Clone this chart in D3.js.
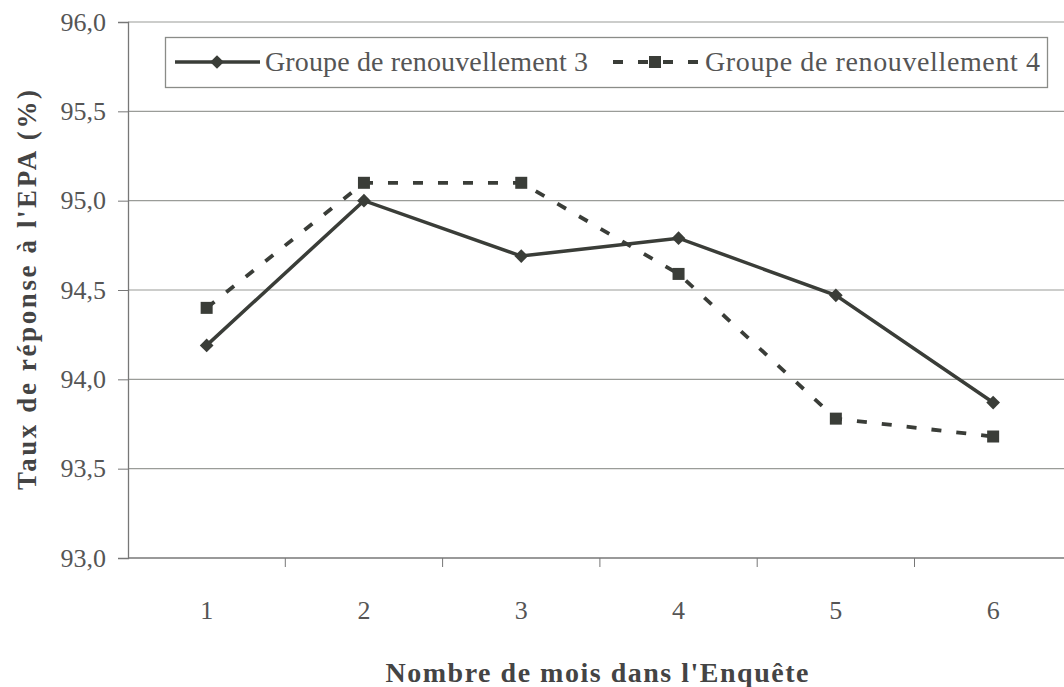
<!DOCTYPE html>
<html>
<head>
<meta charset="utf-8">
<script src="https://cdn.jsdelivr.net/npm/d3@7"></script>
<style>
  body { margin: 0; background: #fff; }
  text { font-family: "Liberation Serif", "Times New Roman", serif; }
</style>
</head>
<body>
<svg id="chart" width="1064" height="687"></svg>
<script>
// data
var months = ['1', '2', '3', '4', '5', '6'];
var groupe3 = [94.19, 95.0, 94.69, 94.79, 94.47, 93.87];
var groupe4 = [94.4, 95.1, 95.1, 94.59, 93.78, 93.68];
var yTicks = [93.0, 93.5, 94.0, 94.5, 95.0, 95.5, 96.0];
var seriesNames = ['Groupe de renouvellement 3', 'Groupe de renouvellement 4'];

var svg = d3.select('#chart');

var plotLeft = 128, plotTop = 22, plotBottom = 558;
var band = 157.3;
var ink = '#3a3d38';

var xScale = d3.scaleBand()
  .domain(months)
  .range([plotLeft, plotLeft + band * months.length])
  .padding(0);

var yScale = d3.scaleLinear()
  .domain([93, 96])
  .range([plotBottom, plotTop]);

var fmt = function(d) { return d3.format('.1f')(d).replace('.', ','); };

// gridlines
svg.append('g')
  .selectAll('line')
  .data(yTicks.slice(1))
  .enter()
  .append('line')
  .attr('x1', plotLeft)
  .attr('x2', 1064)
  .attr('y1', function(d) { return yScale(d); })
  .attr('y2', function(d) { return yScale(d); })
  .attr('stroke', '#9a9c98')
  .attr('stroke-width', 1.2);

// y axis
var yAxis = svg.append('g')
  .attr('transform', 'translate(' + plotLeft + ',0)')
  .call(d3.axisLeft(yScale).tickValues(yTicks).tickFormat(fmt).tickSize(10).tickPadding(12));

// x axis, ticks on the band edges
var xAxis = svg.append('g')
  .attr('transform', 'translate(0,' + plotBottom + ')')
  .call(d3.axisBottom(xScale).tickSize(0).tickPadding(43));

xAxis.selectAll('.edge')
  .data(months.slice(1))
  .enter()
  .append('line')
  .attr('class', 'edge')
  .attr('x1', function(d) { return xScale(d); })
  .attr('x2', function(d) { return xScale(d); })
  .attr('y1', 0)
  .attr('y2', 9)
  .attr('stroke', '#777');

[yAxis, xAxis].forEach(function(ax) {
  ax.select('.domain').attr('stroke', '#777').attr('stroke-width', 1.3);
  ax.selectAll('.tick line').attr('stroke', '#777');
  ax.selectAll('text')
    .attr('font-family', 'Liberation Serif')
    .style('font-family', '"Liberation Serif", serif')
    .style('font-size', '26px')
    .attr('fill', '#555');
});
xAxis.select('.domain').attr('d', 'M' + plotLeft + ',0H1064');

var cx = function(d, i) { return xScale(months[i]) + xScale.bandwidth() / 2; };
var line = d3.line()
  .x(function(d, i) { return xScale(months[i]) + xScale.bandwidth() / 2; })
  .y(function(d) { return yScale(d); });

// groupe 4, dashed with squares
svg.append('path')
  .datum(groupe4)
  .attr('d', line)
  .attr('fill', 'none')
  .attr('stroke', ink)
  .attr('stroke-width', 3.8)
  .attr('stroke-dasharray', '10,15');

svg.selectAll('.sq')
  .data(groupe4)
  .enter()
  .append('rect')
  .attr('class', 'sq')
  .attr('x', function(d, i) { return cx(d, i) - 6; })
  .attr('y', function(d) { return yScale(d) - 6; })
  .attr('width', 12)
  .attr('height', 12)
  .attr('fill', ink);

// groupe 3, solid with diamonds
svg.append('path')
  .datum(groupe3)
  .attr('d', line)
  .attr('fill', 'none')
  .attr('stroke', ink)
  .attr('stroke-width', 3.5);

svg.selectAll('.dia')
  .data(groupe3)
  .enter()
  .append('path')
  .attr('class', 'dia')
  .attr('d', d3.symbol().type(d3.symbolDiamond2).size(120))
  .attr('transform', function(d, i) { return 'translate(' + cx(d, i) + ',' + yScale(d) + ')'; })
  .attr('fill', ink);

// legend
var legend = svg.append('g');
legend.append('rect')
  .attr('x', 165.5)
  .attr('y', 37.5)
  .attr('width', 882)
  .attr('height', 50)
  .attr('fill', '#fff')
  .attr('stroke', '#8a8c88')
  .attr('stroke-width', 1.3);

var ly = 62;
legend.append('line')
  .attr('x1', 175).attr('x2', 260).attr('y1', ly).attr('y2', ly)
  .attr('stroke', ink).attr('stroke-width', 3.5);
legend.append('path')
  .attr('d', d3.symbol().type(d3.symbolDiamond2).size(120))
  .attr('transform', 'translate(217,' + ly + ')')
  .attr('fill', ink);
legend.append('text')
  .attr('x', 265).attr('y', ly + 9)
  .style('font-size', '28px')
  .attr('textLength', 323)
  .attr('fill', '#555')
  .text(seriesNames[0]);

legend.append('line')
  .attr('x1', 613).attr('x2', 698).attr('y1', ly).attr('y2', ly)
  .attr('stroke', ink).attr('stroke-width', 3.8)
  .attr('stroke-dasharray', '10,15');
legend.append('rect')
  .attr('x', 649).attr('y', ly - 6).attr('width', 12).attr('height', 12)
  .attr('fill', ink);
legend.append('text')
  .attr('x', 705).attr('y', ly + 9)
  .style('font-size', '28px')
  .attr('textLength', 335)
  .attr('fill', '#555')
  .text(seriesNames[1]);

// axis titles
svg.append('text')
  .attr('x', 597).attr('y', 682)
  .attr('text-anchor', 'middle')
  .style('font-size', '28px')
  .style('font-weight', 'bold')
  .attr('textLength', 423)
  .attr('fill', '#444')
  .text("Nombre de mois dans l'Enquête");

svg.append('text')
  .attr('transform', 'translate(36,290) rotate(-90)')
  .attr('text-anchor', 'middle')
  .style('font-size', '27px')
  .style('font-weight', 'bold')
  .attr('textLength', 400)
  .attr('fill', '#444')
  .text("Taux de réponse à l'EPA (%)");
</script>
</body>
</html>
